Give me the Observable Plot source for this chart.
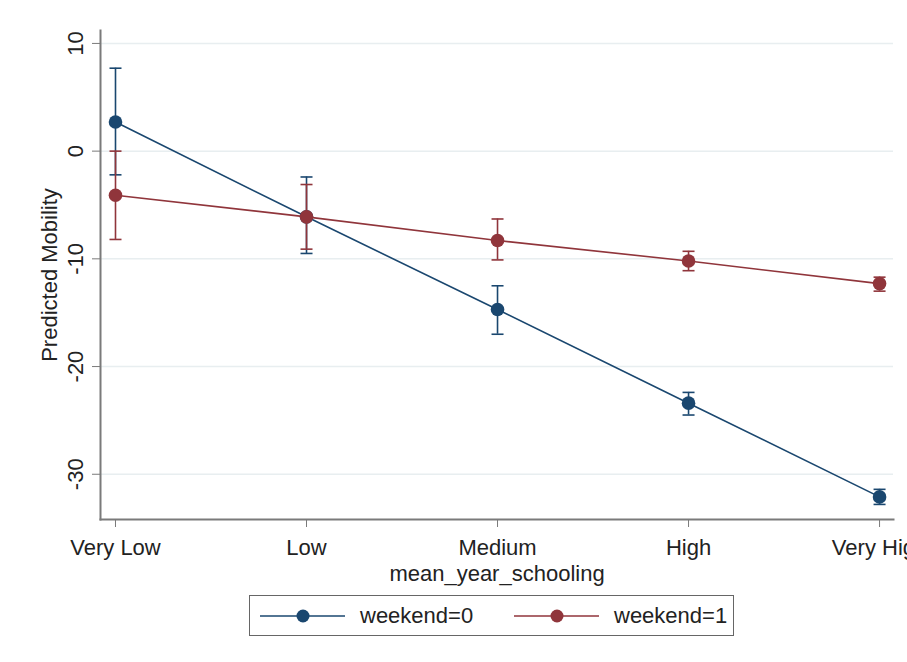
<!DOCTYPE html>
<html>
<head>
<meta charset="utf-8">
<script src="https://cdn.jsdelivr.net/npm/d3@7"></script>
<script src="https://cdn.jsdelivr.net/npm/@observablehq/plot@0.6"></script>
<style>
  html, body { margin: 0; padding: 0; background: #ffffff; overflow: hidden; }
  body { width: 907px; height: 662px; position: relative; font-family: "Liberation Sans", Arial, sans-serif; }
  #legend {
    position: absolute; left: 249px; top: 595px; width: 485px; height: 41px;
    border: 1.5px solid #666; background: #fff; box-sizing: border-box;
    display: flex; align-items: center; padding-left: 10px; overflow: hidden;
  }
  .item { display: flex; align-items: center; flex: none; font-size: 22px; color: #222; }
  .item:first-child { width: 254px; }
  .item svg { margin-right: 15px; }
</style>
</head>
<body>
<div id="chart"></div>
<div id="legend"></div>
<script>
// ---- data ----
const categories = ["Very Low", "Low", "Medium", "High", "Very High"];
const series = ["weekend=0", "weekend=1"];
const colors = ["#1a476f", "#90353b"];
const yTicks = [-30, -20, -10, 0, 10];

const est0 = [2.7, -6.1, -14.7, -23.4, -32.1];
const lo0  = [-2.2, -9.5, -17.0, -24.5, -32.8];
const hi0  = [7.7, -2.4, -12.5, -22.4, -31.4];

const est1 = [-4.1, -6.1, -8.3, -10.2, -12.3];
const lo1  = [-8.2, -9.1, -10.1, -11.1, -13.0];
const hi1  = [0.0, -3.1, -6.3, -9.3, -11.7];

// ---- table ----
const rows = [];
[[est0, lo0, hi0], [est1, lo1, hi1]].forEach(([e, l, h], s) => {
  categories.forEach((c, i) => rows.push({i, cat: c, series: series[s], est: e[i], lo: l[i], hi: h[i]}));
});

const cap = {
  draw(ctx, size) {
    const r = Math.sqrt(size / Math.PI);
    ctx.moveTo(-r, 0); ctx.lineTo(r, 0);
  }
};

const chart = Plot.plot({
  width: 907, height: 585,
  marginLeft: 100, marginRight: 14, marginTop: 30, marginBottom: 66,
  style: {fontFamily: "'Liberation Sans', Arial, sans-serif", fontSize: "22px", color: "#222", background: "#fff", overflow: "visible"},
  x: {type: "linear", domain: [-0.0785, 4.073]},
  y: {domain: [-34.2, 11.2]},
  color: {domain: series, range: colors},
  marks: [
    Plot.gridY(yTicks, {stroke: "#e8eef0", strokeOpacity: 1, strokeWidth: 1.5}),
    Plot.frame({anchor: "left", stroke: "#7a7a7a", strokeWidth: 2}),
    Plot.frame({anchor: "bottom", stroke: "#7a7a7a", strokeWidth: 2}),
    Plot.axisY(yTicks, {tickRotate: -90, tickSize: 8, tickPadding: 10, stroke: "#7a7a7a", fill: "#222",
      tickFormat: d => String(d),
      label: "Predicted Mobility", labelAnchor: "center", labelOffset: 59, labelArrow: "none"}),
    Plot.axisX(d3.range(categories.length), {tickFormat: i => categories[i], tickSize: 8, tickPadding: 12,
      stroke: "#7a7a7a", fill: "#222",
      label: "mean_year_schooling", labelAnchor: "center", labelOffset: 61, labelArrow: "none"}),
    ...series.map(s => [
      Plot.ruleX(rows.filter(d => d.series === s), {x: "i", y1: "lo", y2: "hi", stroke: "series", strokeWidth: 1.6}),
      Plot.dot(rows.filter(d => d.series === s), {x: "i", y: "lo", symbol: cap, r: 6, stroke: "series", strokeWidth: 1.6}),
      Plot.dot(rows.filter(d => d.series === s), {x: "i", y: "hi", symbol: cap, r: 6, stroke: "series", strokeWidth: 1.6}),
      Plot.line(rows.filter(d => d.series === s), {x: "i", y: "est", stroke: "series", strokeWidth: 1.6}),
      Plot.dot(rows.filter(d => d.series === s), {x: "i", y: "est", r: 6.8, fill: "series", stroke: "none"})
    ]).flat()
  ]
});
document.getElementById("chart").append(chart);

// ---- legend ----
const legend = document.getElementById("legend");
series.forEach((s, k) => {
  const item = document.createElement("div");
  item.className = "item";
  item.innerHTML = `<svg width="85" height="16"><line x1="0" y1="8" x2="85" y2="8" stroke="${colors[k]}" stroke-width="1.6"/><circle cx="43" cy="8" r="6.5" fill="${colors[k]}"/></svg><span>${s}</span>`;
  legend.append(item);
});
</script>
</body>
</html>
